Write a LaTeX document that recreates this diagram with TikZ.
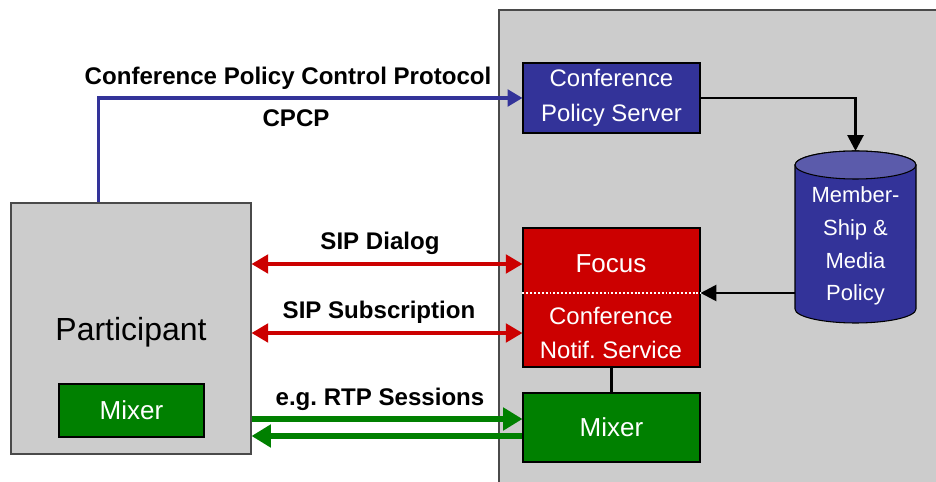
\documentclass[tikz,border=0pt]{standalone}
\usepackage{fontspec}
\setmainfont{Liberation Sans}
\usetikzlibrary{arrows.meta}
\definecolor{cpblue}{HTML}{333399}
\definecolor{cptop}{HTML}{5B5BAB}
\definecolor{focred}{HTML}{CC0000}
\definecolor{mixgreen}{HTML}{008000}
\definecolor{bggray}{HTML}{CCCCCC}
\definecolor{edgegray}{HTML}{4A4A4A}
\begin{document}
\begin{tikzpicture}[x=0.02cm,y=-0.02cm,
    box/.style={draw=black,line width=0.6pt,text=white,align=center,minimum width=3.54cm,
      font=\fontsize{13.6}{19.8}\selectfont},
    lbl/.style={anchor=base,font=\bfseries\fontsize{13.7}{16}\selectfont},
    sig/.style={focred,line width=2.2pt,{Triangle[length=9.5pt,width=10.5pt]}-{Triangle[length=9.5pt,width=10.5pt]}},
    rtp/.style={mixgreen,line width=3.2pt,-{Triangle[length=11pt,width=12.5pt]}},
    ctl/.style={line width=1.6pt,-{Triangle[length=9pt,width=9pt]}}]
  \useasboundingbox (0,0) rectangle (936,482);
  % conference side
  \filldraw[fill=bggray,draw=edgegray,line width=0.6pt] (499,10) rectangle (945,495);
  % participant side
  \node[draw=edgegray,fill=bggray,line width=0.6pt,minimum width=4.8cm,minimum height=5.02cm,
    text depth=0pt,font=\fontsize{18.2}{21}\selectfont] (part) at (131,328.5) {Participant};
  \node[box,fill=mixgreen,minimum width=2.9cm,minimum height=1.06cm,
    font=\fontsize{14.8}{18}\selectfont] (pmix) at (131.5,410.5) {Mixer};
  % servers
  \node[box,fill=cpblue,minimum height=1.4cm] (cps) at (611.5,98) {Conference\\Policy Server};
  \node[box,fill=focred,minimum height=2.78cm] (focus) at (611.5,297.5) {};
  \node[text=white,font=\fontsize{14.8}{18}\selectfont] (foclbl) at (611,264) {Focus};
  \node[text=white,align=center,font=\fontsize{13.6}{19}\selectfont] (notif) at (611,333)
    {Conference\\Notif.\ Service};
  \node[box,fill=mixgreen,minimum height=1.38cm,font=\fontsize{14.8}{18}\selectfont] (cmix)
    at (611.5,427.5) {Mixer};
  % policy database
  \filldraw[fill=cpblue,draw=black,line width=0.6pt] (795,165) -- (795,309)
    arc[start angle=180,end angle=360,x radius=1.21cm,y radius=0.28cm] -- (916,165)
    arc[start angle=0,end angle=180,x radius=1.21cm,y radius=0.28cm] -- cycle;
  \filldraw[fill=cptop,draw=black,line width=0.6pt] (855.5,165)
    ellipse[x radius=1.21cm,y radius=0.28cm];
  \node[text=white,align=center,font=\fontsize{12.5}{18.7}\selectfont] (policy) at (855.5,246)
    {Member-\\Ship \&\\Media\\Policy};
  \coordinate (cyltop) at (855.5,151);
  \coordinate (cylout) at (795,293);
  % internal links
  \draw[white,line width=1.1pt,dash pattern=on 1.1pt off 1.1pt] (focus.west |- cylout) -- (focus.east |- cylout);
  \draw[ctl] (cps.east) -| (cyltop);
  \draw[ctl] (cylout) -- (focus.east |- cylout);
  \draw[line width=1.6pt] (focus.south) -- (cmix.north);
  % protocols
  \draw[cpblue,line width=1.9pt,-{Triangle[length=8.5pt,width=9.5pt]}]
    ([xshift=1.76cm]part.north west) |- (cps.west);
  \node[lbl] (cpcpl) at (288,85) {Conference Policy Control Protocol};
  \node[lbl] (cpcp) at (296,127) {CPCP};
  \draw[sig] (part.east |- foclbl) -- (focus.west |- foclbl);
  \node[lbl] (dlg) at (380,250) {SIP Dialog};
  \draw[sig] (part.east |- notif) -- (focus.west |- notif);
  \node[lbl] (sub) at (379,319) {SIP Subscription};
  \coordinate (rtpin) at ([yshift=0.17cm]cmix.west);
  \coordinate (rtpout) at ([yshift=-0.17cm]cmix.west);
  \draw[rtp] (part.east |- rtpin) -- (rtpin);
  \draw[rtp] (rtpout) -- (part.east |- rtpout);
  \node[lbl] (rtpl) at (380,406) {e.g.\ RTP Sessions};
\end{tikzpicture}
\end{document}
